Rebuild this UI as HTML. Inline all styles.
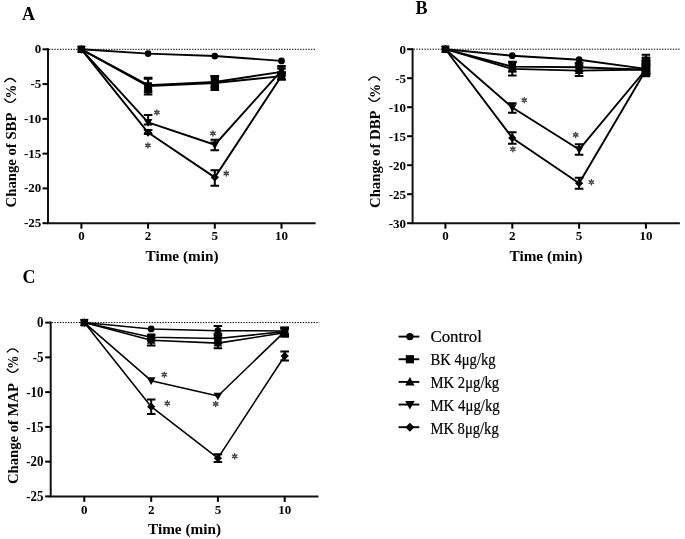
<!DOCTYPE html>
<html><head><meta charset="utf-8"><style>
html,body{margin:0;padding:0;background:#fff;}
body{width:685px;height:539px;overflow:hidden;}
svg{display:block;will-change:transform;}
.wrap{width:685px;height:539px;}
.tk{font-family:"Liberation Serif",serif;font-weight:bold;font-size:13px;fill:#000;}
.ttl{font-family:"Liberation Serif",serif;font-weight:bold;font-size:14.5px;fill:#000;}
.pct{font-family:"Liberation Serif",serif;font-weight:bold;font-size:15.5px;fill:#000;}
.lt{font-family:"Liberation Serif",serif;font-weight:bold;font-size:18px;fill:#000;}
.lg{font-family:"Liberation Serif",serif;font-size:16.3px;fill:#000;stroke:#000;stroke-width:0.2px;}
</style></head><body><div class="wrap">
<svg width="685" height="539" viewBox="0 0 685 539">
<rect width="100%" height="100%" fill="#fff"/>
<line x1="49" y1="49.3" x2="316.4" y2="49.3" stroke="#000" stroke-width="1" stroke-dasharray="1.4 1.3"/>
<path d="M48 48.3L48 223.2L315.6 223.2" stroke="#111" stroke-width="2.0" fill="none" stroke-linejoin="miter" stroke-linecap="butt"/>
<line x1="42.5" y1="49.3" x2="48" y2="49.3" stroke="#000" stroke-width="2.0"/>
<text x="41.3" y="53.2" text-anchor="end" class="tk" style="font-size:13px" textLength="6.5" lengthAdjust="spacingAndGlyphs">0</text>
<line x1="42.5" y1="84.08" x2="48" y2="84.08" stroke="#000" stroke-width="2.0"/>
<text x="41.3" y="87.98" text-anchor="end" class="tk" style="font-size:13px" textLength="10.83" lengthAdjust="spacingAndGlyphs">-5</text>
<line x1="42.5" y1="118.86" x2="48" y2="118.86" stroke="#000" stroke-width="2.0"/>
<text x="41.3" y="122.76" text-anchor="end" class="tk" style="font-size:13px" textLength="17.33" lengthAdjust="spacingAndGlyphs">-10</text>
<line x1="42.5" y1="153.64" x2="48" y2="153.64" stroke="#000" stroke-width="2.0"/>
<text x="41.3" y="157.54" text-anchor="end" class="tk" style="font-size:13px" textLength="17.33" lengthAdjust="spacingAndGlyphs">-15</text>
<line x1="42.5" y1="188.42" x2="48" y2="188.42" stroke="#000" stroke-width="2.0"/>
<text x="41.3" y="192.32" text-anchor="end" class="tk" style="font-size:13px" textLength="17.33" lengthAdjust="spacingAndGlyphs">-20</text>
<line x1="42.5" y1="223.2" x2="48" y2="223.2" stroke="#000" stroke-width="2.0"/>
<text x="41.3" y="227.1" text-anchor="end" class="tk" style="font-size:13px" textLength="17.33" lengthAdjust="spacingAndGlyphs">-25</text>
<line x1="81.4" y1="223.2" x2="81.4" y2="228.7" stroke="#000" stroke-width="2.0"/>
<text x="81.4" y="239.6" text-anchor="middle" class="tk" style="font-size:13px" textLength="6.5" lengthAdjust="spacingAndGlyphs">0</text>
<line x1="148.1" y1="223.2" x2="148.1" y2="228.7" stroke="#000" stroke-width="2.0"/>
<text x="148.1" y="239.6" text-anchor="middle" class="tk" style="font-size:13px" textLength="6.5" lengthAdjust="spacingAndGlyphs">2</text>
<line x1="214.8" y1="223.2" x2="214.8" y2="228.7" stroke="#000" stroke-width="2.0"/>
<text x="214.8" y="239.6" text-anchor="middle" class="tk" style="font-size:13px" textLength="6.5" lengthAdjust="spacingAndGlyphs">5</text>
<line x1="281.5" y1="223.2" x2="281.5" y2="228.7" stroke="#000" stroke-width="2.0"/>
<text x="281.5" y="239.6" text-anchor="middle" class="tk" style="font-size:13px" textLength="13" lengthAdjust="spacingAndGlyphs">10</text>
<text x="182" y="261.1" text-anchor="middle" class="ttl" textLength="73" lengthAdjust="spacingAndGlyphs">Time (min)</text>
<text transform="translate(15.7 207.4) rotate(-90)" class="ttl" textLength="94.8" lengthAdjust="spacingAndGlyphs">Change of SBP</text>
<path d="M4.3 98.6Q10.15 106.2 16 98.6" stroke="#000" stroke-width="1.3" fill="none"/>
<path d="M4.3 82.1Q10.15 74.9 16 82.1" stroke="#000" stroke-width="1.3" fill="none"/>
<text transform="translate(15.9 98.6) rotate(-90)" class="pct" textLength="13.7" lengthAdjust="spacingAndGlyphs">%</text>
<text x="22" y="19.8" class="lt">A</text>
<polyline points="81.4,49.3 148.1,53.61 214.8,56.05 281.5,60.92" fill="none" stroke="#000" stroke-width="1.9" stroke-linejoin="round"/>
<polyline points="81.4,49.3 148.1,86.17 214.8,83.04 281.5,76.08" fill="none" stroke="#000" stroke-width="1.9" stroke-linejoin="round"/>
<polyline points="81.4,49.3 148.1,85.12 214.8,81.99 281.5,71.91" fill="none" stroke="#000" stroke-width="1.9" stroke-linejoin="round"/>
<polyline points="81.4,49.3 148.1,122.34 214.8,144.74 281.5,70.52" fill="none" stroke="#000" stroke-width="1.9" stroke-linejoin="round"/>
<polyline points="81.4,49.3 148.1,132.56 214.8,177.36 281.5,76.08" fill="none" stroke="#000" stroke-width="1.9" stroke-linejoin="round"/>
<circle cx="81.4" cy="49.3" r="3.38"/>
<circle cx="148.1" cy="53.61" r="3.38"/>
<circle cx="214.8" cy="56.05" r="3.38"/>
<circle cx="281.5" cy="60.92" r="3.38"/>
<rect x="77.65" y="45.55" width="7.5" height="7.5"/>
<path d="M148.1 77.82L148.1 94.51M143.8 77.82L152.4 77.82M143.8 94.51L152.4 94.51" stroke="#000" stroke-width="2" fill="none"/>
<rect x="144.35" y="82.42" width="7.5" height="7.5"/>
<path d="M214.8 76.08L214.8 89.99M210.5 76.08L219.1 76.08M210.5 89.99L219.1 89.99" stroke="#000" stroke-width="2" fill="none"/>
<rect x="211.05" y="79.29" width="7.5" height="7.5"/>
<path d="M281.5 72.6L281.5 79.56M277.2 72.6L285.8 72.6M277.2 79.56L285.8 79.56" stroke="#000" stroke-width="2" fill="none"/>
<rect x="277.75" y="72.33" width="7.5" height="7.5"/>
<path d="M81.4 44.88L85.71 52.6L77.09 52.6Z"/>
<path d="M148.1 78.86L148.1 91.38M143.8 78.86L152.4 78.86M143.8 91.38L152.4 91.38" stroke="#000" stroke-width="2" fill="none"/>
<path d="M148.1 80.7L152.41 88.42L143.79 88.42Z"/>
<path d="M214.8 76.43L214.8 87.56M210.5 76.43L219.1 76.43M210.5 87.56L219.1 87.56" stroke="#000" stroke-width="2" fill="none"/>
<path d="M214.8 77.57L219.11 85.29L210.49 85.29Z"/>
<path d="M281.5 68.43L281.5 75.38M277.2 68.43L285.8 68.43M277.2 75.38L285.8 75.38" stroke="#000" stroke-width="2" fill="none"/>
<path d="M281.5 67.48L285.81 75.21L277.19 75.21Z"/>
<path d="M81.4 53.72L85.71 46L77.09 46Z"/>
<path d="M148.1 115.03L148.1 124.42M143.8 115.03L152.4 115.03M143.8 124.42L152.4 124.42" stroke="#000" stroke-width="2" fill="none"/>
<path d="M148.1 126.76L152.41 119.04L143.79 119.04Z"/>
<path d="M214.8 139.87L214.8 150.3M210.5 139.87L219.1 139.87M210.5 150.3L219.1 150.3" stroke="#000" stroke-width="2" fill="none"/>
<path d="M214.8 149.16L219.11 141.44L210.49 141.44Z"/>
<path d="M281.5 65.99L281.5 72.6M277.2 65.99L285.8 65.99M277.2 72.6L285.8 72.6" stroke="#000" stroke-width="2" fill="none"/>
<path d="M281.5 74.94L285.81 67.22L277.19 67.22Z"/>
<path d="M81.4 45.17L85.53 49.3L81.4 53.42L77.28 49.3Z"/>
<path d="M148.1 129.92L148.1 133.95M143.8 129.92L152.4 129.92M143.8 133.95L152.4 133.95" stroke="#000" stroke-width="2" fill="none"/>
<path d="M148.1 128.44L152.22 132.56L148.1 136.69L143.97 132.56Z"/>
<path d="M214.8 170.2L214.8 185.71M210.5 170.2L219.1 170.2M210.5 185.71L219.1 185.71" stroke="#000" stroke-width="2" fill="none"/>
<path d="M214.8 173.23L218.93 177.36L214.8 181.48L210.68 177.36Z"/>
<path d="M281.5 72.6L281.5 79.56M277.2 72.6L285.8 72.6M277.2 79.56L285.8 79.56" stroke="#000" stroke-width="2" fill="none"/>
<path d="M281.5 71.96L285.62 76.08L281.5 80.21L277.38 76.08Z"/>
<path d="M156.9 111.35L156.9 109.8M155.99 111.88L154.65 111.1M155.99 112.93L154.65 113.7M156.9 113.45L156.9 115M157.81 112.93L159.15 113.7M157.81 111.88L159.15 111.1" stroke="#3c3c3c" stroke-width="1.35" stroke-linecap="round" fill="none"/>
<path d="M147.9 144.35L147.9 142.8M146.99 144.88L145.65 144.1M146.99 145.93L145.65 146.7M147.9 146.45L147.9 148M148.81 145.93L150.15 146.7M148.81 144.88L150.15 144.1" stroke="#3c3c3c" stroke-width="1.35" stroke-linecap="round" fill="none"/>
<path d="M212.9 132.35L212.9 130.8M211.99 132.88L210.65 132.1M211.99 133.93L210.65 134.7M212.9 134.45L212.9 136M213.81 133.93L215.15 134.7M213.81 132.88L215.15 132.1" stroke="#3c3c3c" stroke-width="1.35" stroke-linecap="round" fill="none"/>
<path d="M226.3 172.35L226.3 170.8M225.39 172.88L224.05 172.1M225.39 173.93L224.05 174.7M226.3 174.45L226.3 176M227.21 173.93L228.55 174.7M227.21 172.88L228.55 172.1" stroke="#3c3c3c" stroke-width="1.35" stroke-linecap="round" fill="none"/>
<rect x="144.3" y="82.6" width="7.8" height="11" rx="0.8"/>
<rect x="210.7" y="76.2" width="8.2" height="13.2" rx="0.8"/>
<line x1="413.6" y1="49.2" x2="680.7" y2="49.2" stroke="#000" stroke-width="1" stroke-dasharray="1.4 1.3"/>
<path d="M412.6 48.2L412.6 223.2L679.9 223.2" stroke="#111" stroke-width="2.0" fill="none" stroke-linejoin="miter" stroke-linecap="butt"/>
<line x1="407.1" y1="49.2" x2="412.6" y2="49.2" stroke="#000" stroke-width="2.0"/>
<text x="406" y="53.5" text-anchor="end" class="tk" style="font-size:13px" textLength="6.5" lengthAdjust="spacingAndGlyphs">0</text>
<line x1="407.1" y1="78.2" x2="412.6" y2="78.2" stroke="#000" stroke-width="2.0"/>
<text x="406" y="82.5" text-anchor="end" class="tk" style="font-size:13px" textLength="10.83" lengthAdjust="spacingAndGlyphs">-5</text>
<line x1="407.1" y1="107.2" x2="412.6" y2="107.2" stroke="#000" stroke-width="2.0"/>
<text x="406" y="111.5" text-anchor="end" class="tk" style="font-size:13px" textLength="17.33" lengthAdjust="spacingAndGlyphs">-10</text>
<line x1="407.1" y1="136.2" x2="412.6" y2="136.2" stroke="#000" stroke-width="2.0"/>
<text x="406" y="140.5" text-anchor="end" class="tk" style="font-size:13px" textLength="17.33" lengthAdjust="spacingAndGlyphs">-15</text>
<line x1="407.1" y1="165.2" x2="412.6" y2="165.2" stroke="#000" stroke-width="2.0"/>
<text x="406" y="169.5" text-anchor="end" class="tk" style="font-size:13px" textLength="17.33" lengthAdjust="spacingAndGlyphs">-20</text>
<line x1="407.1" y1="194.2" x2="412.6" y2="194.2" stroke="#000" stroke-width="2.0"/>
<text x="406" y="198.5" text-anchor="end" class="tk" style="font-size:13px" textLength="17.33" lengthAdjust="spacingAndGlyphs">-25</text>
<line x1="407.1" y1="223.2" x2="412.6" y2="223.2" stroke="#000" stroke-width="2.0"/>
<text x="406" y="227.5" text-anchor="end" class="tk" style="font-size:13px" textLength="17.33" lengthAdjust="spacingAndGlyphs">-30</text>
<line x1="445.4" y1="223.2" x2="445.4" y2="228.7" stroke="#000" stroke-width="2.0"/>
<text x="445.4" y="240.2" text-anchor="middle" class="tk" style="font-size:13px" textLength="6.5" lengthAdjust="spacingAndGlyphs">0</text>
<line x1="512.3" y1="223.2" x2="512.3" y2="228.7" stroke="#000" stroke-width="2.0"/>
<text x="512.3" y="240.2" text-anchor="middle" class="tk" style="font-size:13px" textLength="6.5" lengthAdjust="spacingAndGlyphs">2</text>
<line x1="579.1" y1="223.2" x2="579.1" y2="228.7" stroke="#000" stroke-width="2.0"/>
<text x="579.1" y="240.2" text-anchor="middle" class="tk" style="font-size:13px" textLength="6.5" lengthAdjust="spacingAndGlyphs">5</text>
<line x1="645.9" y1="223.2" x2="645.9" y2="228.7" stroke="#000" stroke-width="2.0"/>
<text x="645.9" y="240.2" text-anchor="middle" class="tk" style="font-size:13px" textLength="13" lengthAdjust="spacingAndGlyphs">10</text>
<text x="546" y="261.1" text-anchor="middle" class="ttl" textLength="73" lengthAdjust="spacingAndGlyphs">Time (min)</text>
<text transform="translate(379.8 208) rotate(-90)" class="ttl" textLength="97.6" lengthAdjust="spacingAndGlyphs">Change of DBP</text>
<path d="M368.4 97.6Q374.25 105.2 380.1 97.6" stroke="#000" stroke-width="1.3" fill="none"/>
<path d="M368.4 80.5Q374.25 73.3 380.1 80.5" stroke="#000" stroke-width="1.3" fill="none"/>
<text transform="translate(380 97.9) rotate(-90)" class="pct" textLength="14" lengthAdjust="spacingAndGlyphs">%</text>
<text x="415.5" y="13.7" class="lt">B</text>
<polyline points="445.4,49.2 512.3,55.7 579.1,59.7 645.9,68.92" fill="none" stroke="#000" stroke-width="1.9" stroke-linejoin="round"/>
<polyline points="445.4,49.2 512.3,66.6 579.1,67.18 645.9,69.79" fill="none" stroke="#000" stroke-width="1.9" stroke-linejoin="round"/>
<polyline points="445.4,49.2 512.3,68.92 579.1,70.66 645.9,69.5" fill="none" stroke="#000" stroke-width="1.9" stroke-linejoin="round"/>
<polyline points="445.4,49.2 512.3,107.49 579.1,149.54 645.9,69.5" fill="none" stroke="#000" stroke-width="1.9" stroke-linejoin="round"/>
<polyline points="445.4,49.2 512.3,137.94 579.1,183.18 645.9,70.08" fill="none" stroke="#000" stroke-width="1.9" stroke-linejoin="round"/>
<circle cx="445.4" cy="49.2" r="3.38"/>
<circle cx="512.3" cy="55.7" r="3.38"/>
<circle cx="579.1" cy="59.7" r="3.38"/>
<path d="M645.9 54.71L645.9 71.24M641.6 54.71L650.2 54.71M641.6 71.24L650.2 71.24" stroke="#000" stroke-width="2" fill="none"/>
<circle cx="645.9" cy="68.92" r="3.38"/>
<rect x="441.65" y="45.45" width="7.5" height="7.5"/>
<path d="M512.3 61.67L512.3 71.53M508 61.67L516.6 61.67M508 71.53L516.6 71.53" stroke="#000" stroke-width="2" fill="none"/>
<rect x="508.55" y="62.85" width="7.5" height="7.5"/>
<path d="M579.1 63.12L579.1 71.24M574.8 63.12L583.4 63.12M574.8 71.24L583.4 71.24" stroke="#000" stroke-width="2" fill="none"/>
<rect x="575.35" y="63.43" width="7.5" height="7.5"/>
<path d="M645.9 61.09L645.9 76.17M641.6 61.09L650.2 61.09M641.6 76.17L650.2 76.17" stroke="#000" stroke-width="2" fill="none"/>
<rect x="642.15" y="66.04" width="7.5" height="7.5"/>
<path d="M445.4 44.78L449.71 52.5L441.09 52.5Z"/>
<path d="M512.3 62.25L512.3 75.59M508 62.25L516.6 62.25M508 75.59L516.6 75.59" stroke="#000" stroke-width="2" fill="none"/>
<path d="M512.3 64.5L516.61 72.22L507.99 72.22Z"/>
<path d="M579.1 65.44L579.1 75.88M574.8 65.44L583.4 65.44M574.8 75.88L583.4 75.88" stroke="#000" stroke-width="2" fill="none"/>
<path d="M579.1 66.23L583.41 73.96L574.79 73.96Z"/>
<path d="M645.9 63.7L645.9 74.72M641.6 63.7L650.2 63.7M641.6 74.72L650.2 74.72" stroke="#000" stroke-width="2" fill="none"/>
<path d="M645.9 65.08L650.21 72.8L641.59 72.8Z"/>
<path d="M445.4 53.62L449.71 45.9L441.09 45.9Z"/>
<path d="M512.3 103.14L512.3 112.71M508 103.14L516.6 103.14M508 112.71L516.6 112.71" stroke="#000" stroke-width="2" fill="none"/>
<path d="M512.3 111.92L516.61 104.19L507.99 104.19Z"/>
<path d="M579.1 144.32L579.1 154.76M574.8 144.32L583.4 144.32M574.8 154.76L583.4 154.76" stroke="#000" stroke-width="2" fill="none"/>
<path d="M579.1 153.97L583.41 146.24L574.79 146.24Z"/>
<path d="M645.9 64.86L645.9 74.14M641.6 64.86L650.2 64.86M641.6 74.14L650.2 74.14" stroke="#000" stroke-width="2" fill="none"/>
<path d="M645.9 73.92L650.21 66.2L641.59 66.2Z"/>
<path d="M445.4 45.08L449.52 49.2L445.4 53.33L441.27 49.2Z"/>
<path d="M512.3 132.14L512.3 143.74M508 132.14L516.6 132.14M508 143.74L516.6 143.74" stroke="#000" stroke-width="2" fill="none"/>
<path d="M512.3 133.81L516.42 137.94L512.3 142.06L508.17 137.94Z"/>
<path d="M579.1 177.67L579.1 188.69M574.8 177.67L583.4 177.67M574.8 188.69L583.4 188.69" stroke="#000" stroke-width="2" fill="none"/>
<path d="M579.1 179.06L583.23 183.18L579.1 187.31L574.98 183.18Z"/>
<path d="M645.9 66.6L645.9 73.56M641.6 66.6L650.2 66.6M641.6 73.56L650.2 73.56" stroke="#000" stroke-width="2" fill="none"/>
<path d="M645.9 65.95L650.02 70.08L645.9 74.2L641.77 70.08Z"/>
<path d="M524.3 99.15L524.3 97.6M523.39 99.67L522.05 98.9M523.39 100.73L522.05 101.5M524.3 101.25L524.3 102.8M525.21 100.73L526.55 101.5M525.21 99.67L526.55 98.9" stroke="#3c3c3c" stroke-width="1.35" stroke-linecap="round" fill="none"/>
<path d="M512.9 148.15L512.9 146.6M511.99 148.67L510.65 147.9M511.99 149.72L510.65 150.5M512.9 150.25L512.9 151.8M513.81 149.72L515.15 150.5M513.81 148.67L515.15 147.9" stroke="#3c3c3c" stroke-width="1.35" stroke-linecap="round" fill="none"/>
<path d="M575.7 133.85L575.7 132.3M574.79 134.38L573.45 133.6M574.79 135.43L573.45 136.2M575.7 135.95L575.7 137.5M576.61 135.43L577.95 136.2M576.61 134.38L577.95 133.6" stroke="#3c3c3c" stroke-width="1.35" stroke-linecap="round" fill="none"/>
<path d="M591.4 181.15L591.4 179.6M590.49 181.67L589.15 180.9M590.49 182.72L589.15 183.5M591.4 183.25L591.4 184.8M592.31 182.72L593.65 183.5M592.31 181.67L593.65 180.9" stroke="#3c3c3c" stroke-width="1.35" stroke-linecap="round" fill="none"/>
<rect x="641.6" y="56.6" width="8.8" height="19" rx="1"/>
<line x1="51.7" y1="322.6" x2="319.3" y2="322.6" stroke="#000" stroke-width="1" stroke-dasharray="1.4 1.3"/>
<path d="M50.7 321.6L50.7 496.4L318.5 496.4" stroke="#111" stroke-width="2.0" fill="none" stroke-linejoin="miter" stroke-linecap="butt"/>
<line x1="45.2" y1="322.6" x2="50.7" y2="322.6" stroke="#000" stroke-width="2.0"/>
<text x="43.5" y="327.3" text-anchor="end" class="tk" style="font-size:13.6px" textLength="6.46" lengthAdjust="spacingAndGlyphs">0</text>
<line x1="45.2" y1="357.36" x2="50.7" y2="357.36" stroke="#000" stroke-width="2.0"/>
<text x="43.5" y="362.06" text-anchor="end" class="tk" style="font-size:13.6px" textLength="10.76" lengthAdjust="spacingAndGlyphs">-5</text>
<line x1="45.2" y1="392.12" x2="50.7" y2="392.12" stroke="#000" stroke-width="2.0"/>
<text x="43.5" y="396.82" text-anchor="end" class="tk" style="font-size:13.6px" textLength="17.22" lengthAdjust="spacingAndGlyphs">-10</text>
<line x1="45.2" y1="426.88" x2="50.7" y2="426.88" stroke="#000" stroke-width="2.0"/>
<text x="43.5" y="431.58" text-anchor="end" class="tk" style="font-size:13.6px" textLength="17.22" lengthAdjust="spacingAndGlyphs">-15</text>
<line x1="45.2" y1="461.64" x2="50.7" y2="461.64" stroke="#000" stroke-width="2.0"/>
<text x="43.5" y="466.34" text-anchor="end" class="tk" style="font-size:13.6px" textLength="17.22" lengthAdjust="spacingAndGlyphs">-20</text>
<line x1="45.2" y1="496.4" x2="50.7" y2="496.4" stroke="#000" stroke-width="2.0"/>
<text x="43.5" y="501.1" text-anchor="end" class="tk" style="font-size:13.6px" textLength="17.22" lengthAdjust="spacingAndGlyphs">-25</text>
<line x1="84.3" y1="496.4" x2="84.3" y2="501.9" stroke="#000" stroke-width="2.0"/>
<text x="84.3" y="514" text-anchor="middle" class="tk" style="font-size:13px" textLength="6.5" lengthAdjust="spacingAndGlyphs">0</text>
<line x1="151.2" y1="496.4" x2="151.2" y2="501.9" stroke="#000" stroke-width="2.0"/>
<text x="151.2" y="514" text-anchor="middle" class="tk" style="font-size:13px" textLength="6.5" lengthAdjust="spacingAndGlyphs">2</text>
<line x1="217.9" y1="496.4" x2="217.9" y2="501.9" stroke="#000" stroke-width="2.0"/>
<text x="217.9" y="514" text-anchor="middle" class="tk" style="font-size:13px" textLength="6.5" lengthAdjust="spacingAndGlyphs">5</text>
<line x1="284.7" y1="496.4" x2="284.7" y2="501.9" stroke="#000" stroke-width="2.0"/>
<text x="284.7" y="514" text-anchor="middle" class="tk" style="font-size:13px" textLength="13" lengthAdjust="spacingAndGlyphs">10</text>
<text x="184.5" y="534.2" text-anchor="middle" class="ttl" textLength="73" lengthAdjust="spacingAndGlyphs">Time (min)</text>
<text transform="translate(18.2 484) rotate(-90)" class="ttl" textLength="101" lengthAdjust="spacingAndGlyphs">Change of MAP</text>
<path d="M6.8 368.6Q12.65 376.2 18.5 368.6" stroke="#000" stroke-width="1.3" fill="none"/>
<path d="M6.8 352.4Q12.65 345.2 18.5 352.4" stroke="#000" stroke-width="1.3" fill="none"/>
<text transform="translate(18.4 368.9) rotate(-90)" class="pct" textLength="13.5" lengthAdjust="spacingAndGlyphs">%</text>
<text x="22.5" y="282.5" class="lt">C</text>
<polyline points="84.3,322.6 151.2,328.93 217.9,330.73 284.7,330.94" fill="none" stroke="#000" stroke-width="1.55" stroke-linejoin="round"/>
<polyline points="84.3,322.6 151.2,337.2 217.9,338.59 284.7,331.64" fill="none" stroke="#000" stroke-width="1.55" stroke-linejoin="round"/>
<polyline points="84.3,322.6 151.2,340.33 217.9,343.11 284.7,332.68" fill="none" stroke="#000" stroke-width="1.55" stroke-linejoin="round"/>
<polyline points="84.3,322.6 151.2,380.65 217.9,395.94 284.7,331.64" fill="none" stroke="#000" stroke-width="1.55" stroke-linejoin="round"/>
<polyline points="84.3,322.6 151.2,406.72 217.9,458.16 284.7,355.97" fill="none" stroke="#000" stroke-width="1.55" stroke-linejoin="round"/>
<circle cx="84.3" cy="322.6" r="3.38"/>
<circle cx="151.2" cy="328.93" r="3.38"/>
<path d="M217.9 326.01L217.9 335.46M213.6 326.01L222.2 326.01M213.6 335.46L222.2 335.46" stroke="#000" stroke-width="2" fill="none"/>
<circle cx="217.9" cy="330.73" r="3.38"/>
<path d="M284.7 327.81L284.7 334.07M280.4 327.81L289 327.81M280.4 334.07L289 334.07" stroke="#000" stroke-width="2" fill="none"/>
<circle cx="284.7" cy="330.94" r="3.38"/>
<rect x="80.55" y="318.85" width="7.5" height="7.5"/>
<path d="M151.2 335.11L151.2 340.68M146.9 335.11L155.5 335.11M146.9 340.68L155.5 340.68" stroke="#000" stroke-width="2" fill="none"/>
<rect x="147.45" y="333.45" width="7.5" height="7.5"/>
<path d="M217.9 333.72L217.9 343.46M213.6 333.72L222.2 333.72M213.6 343.46L222.2 343.46" stroke="#000" stroke-width="2" fill="none"/>
<rect x="214.15" y="334.84" width="7.5" height="7.5"/>
<path d="M284.7 327.47L284.7 335.81M280.4 327.47L289 327.47M280.4 335.81L289 335.81" stroke="#000" stroke-width="2" fill="none"/>
<rect x="280.95" y="327.89" width="7.5" height="7.5"/>
<path d="M84.3 318.18L88.61 325.9L79.99 325.9Z"/>
<path d="M151.2 338.24L151.2 345.4M146.9 338.24L155.5 338.24M146.9 345.4L155.5 345.4" stroke="#000" stroke-width="2" fill="none"/>
<path d="M151.2 335.9L155.51 343.63L146.89 343.63Z"/>
<path d="M217.9 337.89L217.9 348.32M213.6 337.89L222.2 337.89M213.6 348.32L222.2 348.32" stroke="#000" stroke-width="2" fill="none"/>
<path d="M217.9 338.68L222.21 346.41L213.59 346.41Z"/>
<path d="M284.7 328.51L284.7 336.85M280.4 328.51L289 328.51M280.4 336.85L289 336.85" stroke="#000" stroke-width="2" fill="none"/>
<path d="M284.7 328.26L289.01 335.98L280.39 335.98Z"/>
<path d="M84.3 327.03L88.61 319.3L79.99 319.3Z"/>
<path d="M151.2 385.07L155.51 377.35L146.89 377.35Z"/>
<path d="M217.9 400.37L222.21 392.64L213.59 392.64Z"/>
<path d="M284.7 328.16L284.7 335.11M280.4 328.16L289 328.16M280.4 335.11L289 335.11" stroke="#000" stroke-width="2" fill="none"/>
<path d="M284.7 336.06L289.01 328.34L280.39 328.34Z"/>
<path d="M84.3 318.48L88.42 322.6L84.3 326.73L80.17 322.6Z"/>
<path d="M151.2 399.42L151.2 414.02M146.9 399.42L155.5 399.42M146.9 414.02L155.5 414.02" stroke="#000" stroke-width="2" fill="none"/>
<path d="M151.2 402.59L155.32 406.72L151.2 410.84L147.07 406.72Z"/>
<path d="M217.9 454.34L217.9 461.99M213.6 454.34L222.2 454.34M213.6 461.99L222.2 461.99" stroke="#000" stroke-width="2" fill="none"/>
<path d="M217.9 454.04L222.03 458.16L217.9 462.29L213.78 458.16Z"/>
<path d="M284.7 351.45L284.7 360.49M280.4 351.45L289 351.45M280.4 360.49L289 360.49" stroke="#000" stroke-width="2" fill="none"/>
<path d="M284.7 351.84L288.82 355.97L284.7 360.09L280.57 355.97Z"/>
<path d="M164.3 373.65L164.3 372.1M163.39 374.18L162.05 373.4M163.39 375.22L162.05 376M164.3 375.75L164.3 377.3M165.21 375.22L166.55 376M165.21 374.18L166.55 373.4" stroke="#3c3c3c" stroke-width="1.35" stroke-linecap="round" fill="none"/>
<path d="M167.3 402.25L167.3 400.7M166.39 402.78L165.05 402M166.39 403.82L165.05 404.6M167.3 404.35L167.3 405.9M168.21 403.82L169.55 404.6M168.21 402.78L169.55 402" stroke="#3c3c3c" stroke-width="1.35" stroke-linecap="round" fill="none"/>
<path d="M215.7 402.85L215.7 401.3M214.79 403.38L213.45 402.6M214.79 404.42L213.45 405.2M215.7 404.95L215.7 406.5M216.61 404.42L217.95 405.2M216.61 403.38L217.95 402.6" stroke="#3c3c3c" stroke-width="1.35" stroke-linecap="round" fill="none"/>
<path d="M234.7 455.25L234.7 453.7M233.79 455.78L232.45 455M233.79 456.82L232.45 457.6M234.7 457.35L234.7 458.9M235.61 456.82L236.95 457.6M235.61 455.78L236.95 455" stroke="#3c3c3c" stroke-width="1.35" stroke-linecap="round" fill="none"/>
<line x1="398.6" y1="336.6" x2="419.3" y2="336.6" stroke="#000" stroke-width="1.9"/>
<circle cx="409.9" cy="336.6" r="3.69"/>
<text x="430.4" y="341.8" class="lg" textLength="51.5" lengthAdjust="spacingAndGlyphs">Control</text>
<line x1="398.6" y1="359.25" x2="419.3" y2="359.25" stroke="#000" stroke-width="1.9"/>
<rect x="405.8" y="355.15" width="8.2" height="8.2"/>
<text x="430.4" y="364.9" class="lg" textLength="65.3" lengthAdjust="spacingAndGlyphs">BK 4μg/kg</text>
<line x1="398.6" y1="381.9" x2="419.3" y2="381.9" stroke="#000" stroke-width="1.9"/>
<path d="M409.9 377.06L414.61 385.51L405.19 385.51Z"/>
<text x="430.4" y="388" class="lg" textLength="68.8" lengthAdjust="spacingAndGlyphs">MK 2μg/kg</text>
<line x1="398.6" y1="404.55" x2="419.3" y2="404.55" stroke="#000" stroke-width="1.9"/>
<path d="M409.9 409.39L414.61 400.94L405.19 400.94Z"/>
<text x="430.4" y="411.1" class="lg" textLength="69.4" lengthAdjust="spacingAndGlyphs">MK 4μg/kg</text>
<line x1="398.6" y1="427.2" x2="419.3" y2="427.2" stroke="#000" stroke-width="1.9"/>
<path d="M409.9 422.69L414.41 427.2L409.9 431.71L405.39 427.2Z"/>
<text x="430.4" y="434.2" class="lg" textLength="68.3" lengthAdjust="spacingAndGlyphs">MK 8μg/kg</text>
</svg>
</div></body></html>
